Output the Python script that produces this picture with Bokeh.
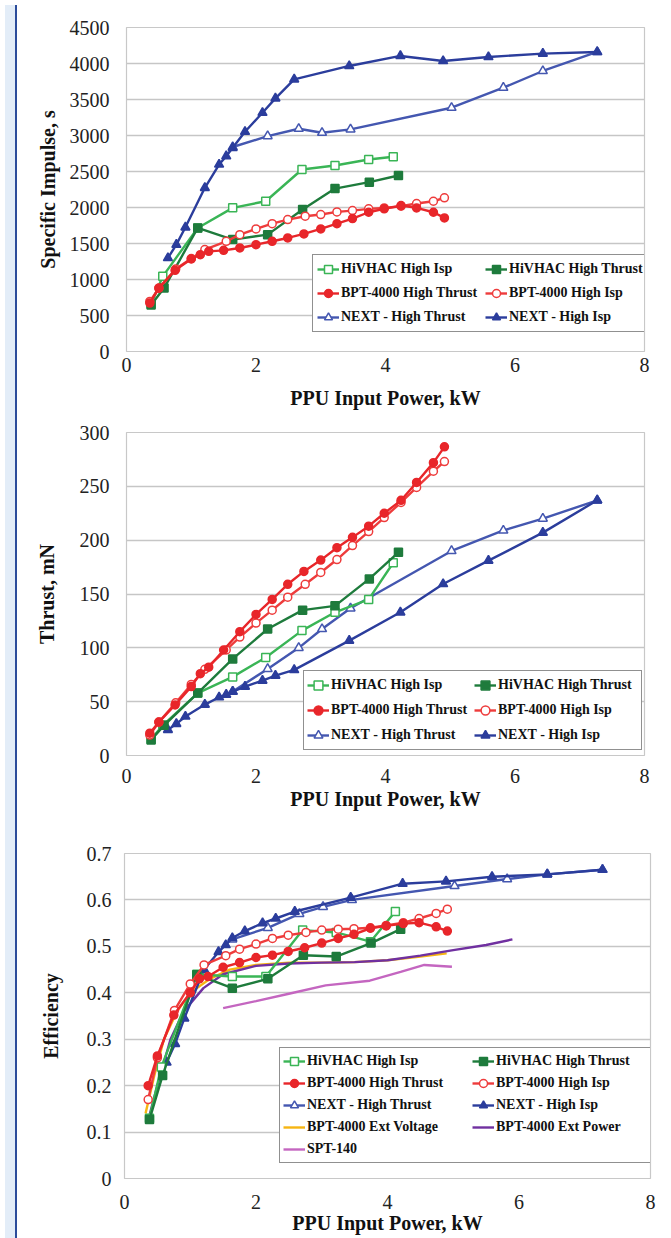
from bokeh.plotting import figure
from bokeh.models import Legend, LegendItem, FixedTicker, Div, ColumnDataSource
from bokeh.layouts import column, row
from bokeh.embed import file_html
from bokeh.resources import INLINE

# ---------------- data ----------------
x_ticks = [0, 2, 4, 6, 8]
isp_ticks = [0, 500, 1000, 1500, 2000, 2500, 3000, 3500, 4000, 4500]
thrust_ticks = [0, 50, 100, 150, 200, 250, 300]
eff_ticks = [0, 0.1, 0.2, 0.3, 0.4, 0.5, 0.6, 0.7]
eff_tick_labels = ["0", "0.1", "0.2", "0.3", "0.4", "0.5", "0.6", "0.7"]

hivhac_isp_power = [0.38, 0.56, 1.10, 1.64, 2.15, 2.71, 3.22, 3.74, 4.12]
hivhac_isp_isp = [660, 1044, 1716, 1995, 2087, 2528, 2583, 2667, 2704]
hivhac_isp_thrust = [15, 28, 58, 73, 91, 116, 133, 145, 179]
hivhac_isp_eff = [0.13, 0.24, 0.44, 0.435, 0.435, 0.535, 0.53, 0.51, 0.575]

hivhac_ht_power = [0.38, 0.58, 1.10, 1.64, 2.18, 2.72, 3.22, 3.75, 4.20]
hivhac_ht_isp = [645, 881, 1716, 1554, 1623, 1971, 2263, 2352, 2444]
hivhac_ht_thrust = [14.5, 28, 58, 89.7, 117.5, 135, 139, 164, 188.7]
hivhac_ht_eff = [0.127, 0.222, 0.439, 0.41, 0.43, 0.481, 0.478, 0.507, 0.537]

bpt_ht_power = [0.36, 0.50, 0.75, 1.00, 1.14, 1.27, 1.50, 1.75, 2.00, 2.25, 2.49,
                2.74, 3.00, 3.25, 3.49, 3.74, 3.98, 4.24, 4.48, 4.74, 4.91]
bpt_ht_isp = [672, 881, 1127, 1285, 1345, 1391, 1405, 1438, 1484, 1531, 1577,
              1633, 1702, 1776, 1846, 1934, 1981, 2027, 1994, 1934, 1855]
bpt_ht_thrust = [20.7, 31, 47, 64, 76, 82, 98, 115, 131, 145, 159,
                 171, 181.5, 193, 202.6, 213, 225, 237, 253.6, 272, 286.7]
bpt_ht_eff = [0.20, 0.264, 0.352, 0.40, 0.43, 0.435, 0.455, 0.465, 0.476, 0.481, 0.489,
              0.497, 0.507, 0.517, 0.526, 0.539, 0.544, 0.549, 0.551, 0.542, 0.533]

bpt_isp_power = [0.36, 0.50, 0.76, 1.00, 1.21, 1.54, 1.75, 2.00, 2.25, 2.49,
                 2.76, 3.00, 3.25, 3.49, 3.74, 3.98, 4.24, 4.48, 4.74, 4.91]
bpt_isp_isp = [695, 880, 1145, 1290, 1415, 1530, 1623, 1702, 1776, 1832,
               1879, 1902, 1939, 1957, 1981, 1994, 2018, 2055, 2087, 2134]
bpt_isp_thrust = [19, 31, 49, 66, 80, 98, 110, 123, 135, 147,
                  159, 170, 182, 195, 208, 221, 235, 249, 264, 273]
bpt_isp_eff = [0.17, 0.26, 0.362, 0.419, 0.46, 0.48, 0.494, 0.505, 0.517, 0.524,
               0.53, 0.535, 0.537, 0.538, 0.54, 0.545, 0.551, 0.56, 0.571, 0.58]

next_ht_power = [1.64, 2.18, 2.66, 3.02, 3.46, 5.02, 5.82, 6.43, 7.27]
next_ht_isp = [2840, 2991, 3094, 3038, 3085, 3386, 3664, 3896, 4160]
next_ht_thrust = [59.4, 80.4, 100, 117.5, 136.7, 190, 209, 220, 237]
next_ht_eff = [0.515, 0.54, 0.57, 0.585, 0.60, 0.63, 0.645, 0.655, 0.665]

next_isp_power = [0.64, 0.77, 0.91, 1.21, 1.43, 1.54, 1.64, 1.83, 2.10, 2.30, 2.59,
                  3.44, 4.23, 4.89, 5.59, 6.43, 7.27]
next_isp_isp = [1299, 1484, 1725, 2273, 2597, 2713, 2829, 3052, 3316, 3516, 3780,
                3966, 4105, 4035, 4091, 4137, 4160]
next_isp_thrust = [23.8, 29.4, 36.2, 47.3, 54.1, 56.6, 59.4, 64, 69.6, 74.2, 79.5,
                   106.7, 133, 159.3, 181, 207, 237]
next_isp_eff = [0.25, 0.29, 0.345, 0.45, 0.488, 0.503, 0.518, 0.533, 0.55, 0.56, 0.575,
                0.605, 0.635, 0.64, 0.65, 0.655, 0.665]

ext_volt_power = [0.32, 0.45, 0.60, 0.80, 1.00, 1.30, 1.60, 2.00, 2.50, 3.00, 3.50, 4.00, 4.50, 4.90]
ext_volt_eff = [0.14, 0.22, 0.30, 0.36, 0.40, 0.43, 0.45, 0.46, 0.465, 0.465, 0.466, 0.47, 0.478, 0.485]

ext_pow_power = [0.35, 0.50, 0.70, 0.90, 1.20, 1.50, 2.00, 2.50, 3.00, 3.50, 4.00, 4.50, 5.00, 5.50, 5.90]
ext_pow_eff = [0.12, 0.20, 0.30, 0.36, 0.41, 0.44, 0.458, 0.463, 0.465, 0.466, 0.47, 0.48, 0.492, 0.503, 0.515]

spt140_power = [1.50, 2.00, 2.50, 3.06, 3.73, 4.20, 4.56, 4.98]
spt140_eff = [0.367, 0.382, 0.398, 0.416, 0.426, 0.445, 0.46, 0.456]

# ---------------- style ----------------
FONT = "'Liberation Serif', 'Times New Roman', serif"
C_LGREEN = "#3ab556"
C_DGREEN = "#1e7b3c"
C_RED = "#e8262a"
C_RED_OPEN = "#ee3c3c"
C_BLUE_OPEN = "#4457b0"
C_BLUE = "#2b3d9c"
C_ORANGE = "#f6b512"
C_PURPLE = "#7030a0"
C_PINK = "#c466c0"

FIG_W = 641


def make_fig(height, ymax, ticks, bl, br, bt, bb, ylabel):
    p = figure(width=FIG_W, height=height, x_range=(0, 8), y_range=(0, ymax),
               output_backend="svg", toolbar_location=None,
               min_border_left=bl, min_border_right=br,
               min_border_top=bt, min_border_bottom=bb)
    p.background_fill_color = "white"
    p.border_fill_color = "white"
    p.outline_line_color = "#c8c8c8"
    p.outline_line_width = 1.2
    p.xgrid.grid_line_color = None
    p.ygrid.grid_line_color = "#c6c6c6"
    p.ygrid.grid_line_width = 1.6
    p.xaxis.ticker = FixedTicker(ticks=x_ticks)
    p.yaxis.ticker = FixedTicker(ticks=ticks)
    for ax in (p.xaxis, p.yaxis):
        ax.axis_line_color = None
        ax.major_tick_line_color = None
        ax.minor_tick_line_color = None
        ax.major_tick_out = 0
        ax.major_tick_in = 0
        ax.major_label_text_font = FONT
        ax.major_label_text_font_size = "20px"
        ax.major_label_text_color = "#222222"
        ax.axis_label_text_font = FONT
        ax.axis_label_text_font_size = "20px"
        ax.axis_label_text_font_style = "bold"
        ax.axis_label_text_color = "#111111"
    p.xaxis.axis_label = "PPU Input Power, kW"
    p.yaxis.axis_label = ylabel
    return p


def series(p, xs, ys, color, marker=None, fill=None, size=8, lw=2.4):
    src = ColumnDataSource(dict(x=xs, y=ys))
    rs = [p.line("x", "y", source=src, line_color=color, line_width=lw)]
    if marker is not None:
        rs.append(p.scatter("x", "y", source=src, marker=marker, size=size,
                            line_color=color, fill_color=fill, line_width=1.5))
    return rs


def add_legend(p, items, loc, gh, spacing, padding, lw):
    leg = Legend(items=items, location=loc, orientation="horizontal", ncols=2,
                 glyph_width=22, glyph_height=gh, label_height=gh, label_width=lw,
                 label_standoff=2, spacing=spacing, padding=padding, margin=0,
                 label_text_font=FONT, label_text_font_size="14px",
                 label_text_font_style="bold", label_text_color="#111111",
                 border_line_color="#222222", border_line_width=1.6,
                 background_fill_color="white", background_fill_alpha=1.0)
    p.add_layout(leg)


def six_series(p, ykey):
    d = {
        "isp": (hivhac_isp_isp, hivhac_ht_isp, bpt_ht_isp, bpt_isp_isp, next_ht_isp, next_isp_isp),
        "thrust": (hivhac_isp_thrust, hivhac_ht_thrust, bpt_ht_thrust, bpt_isp_thrust, next_ht_thrust, next_isp_thrust),
        "eff": (hivhac_isp_eff, hivhac_ht_eff, bpt_ht_eff, bpt_isp_eff, next_ht_eff, next_isp_eff),
    }[ykey]
    r_nht = series(p, next_ht_power, d[4], C_BLUE_OPEN, "triangle", "white", 9)
    r_nisp = series(p, next_isp_power, d[5], C_BLUE, "triangle", C_BLUE, 9)
    r_hisp = series(p, hivhac_isp_power, d[0], C_LGREEN, "square", "white", 8)
    r_hht = series(p, hivhac_ht_power, d[1], C_DGREEN, "square", C_DGREEN, 8)
    r_bisp = series(p, bpt_isp_power, d[3], C_RED_OPEN, "circle", "white", 8)
    r_bht = series(p, bpt_ht_power, d[2], C_RED, "circle", C_RED, 8)
    return [
        LegendItem(label="HiVHAC High Isp", renderers=r_hisp),
        LegendItem(label="HiVHAC High Thrust", renderers=r_hht),
        LegendItem(label="BPT-4000 High Thrust", renderers=r_bht),
        LegendItem(label="BPT-4000 High Isp", renderers=r_bisp),
        LegendItem(label="NEXT - High Thrust", renderers=r_nht),
        LegendItem(label="NEXT - High Isp", renderers=r_nisp),
    ]


# ---- chart 1: specific impulse ----
p1 = make_fig(411, 4500, isp_ticks, 104, 19, 27, 60, "Specific Impulse, s")
p1.xaxis.major_label_standoff = 6
p1.xaxis.axis_label_standoff = 12
p1.yaxis.major_label_standoff = 17
p1.yaxis.axis_label_standoff = 8
items1 = six_series(p1, "isp")
add_legend(p1, items1, (186, 19), 20, 4, 4, 140)

# ---- chart 2: thrust ----
p2 = make_fig(410, 300, thrust_ticks, 104, 19, 21, 66, "Thrust, mN")
p2.xaxis.major_label_standoff = 13
p2.xaxis.axis_label_standoff = 2
p2.yaxis.major_label_standoff = 17
p2.yaxis.axis_label_standoff = 19
items2 = six_series(p2, "thrust")
add_legend(p2, items2, (177, 5), 22, 3, 3, 140)

# ---- chart 3: efficiency ----
p3 = make_fig(415, 0.7, eff_ticks, 102, 13, 32, 52, "Efficiency")
p3.yaxis.major_label_overrides = {t: s for t, s in zip(eff_ticks, eff_tick_labels)}
p3.xaxis.major_label_standoff = 16
p3.xaxis.axis_label_standoff = 0
p3.yaxis.major_label_standoff = 13
p3.yaxis.axis_label_standoff = 22
r_ev = series(p3, ext_volt_power, ext_volt_eff, C_ORANGE)
r_ep = series(p3, ext_pow_power, ext_pow_eff, C_PURPLE)
r_spt = series(p3, spt140_power, spt140_eff, C_PINK)
items3 = six_series(p3, "eff")
items3 += [
    LegendItem(label="BPT-4000 Ext Voltage", renderers=r_ev),
    LegendItem(label="BPT-4000 Ext Power", renderers=r_ep),
    LegendItem(label="SPT-140", renderers=r_spt),
]
add_legend(p3, items3, (155, 15), 20, 2, 3, 163)

strip = Div(text="", width=12, height=1236,
            styles={"background-color": "#e3edf8", "border-right": "2px solid #2b4c9b"})

layout = row(strip, column(p1, p2, row(p3)))
open("out.html", "w").write(file_html(layout, INLINE))
